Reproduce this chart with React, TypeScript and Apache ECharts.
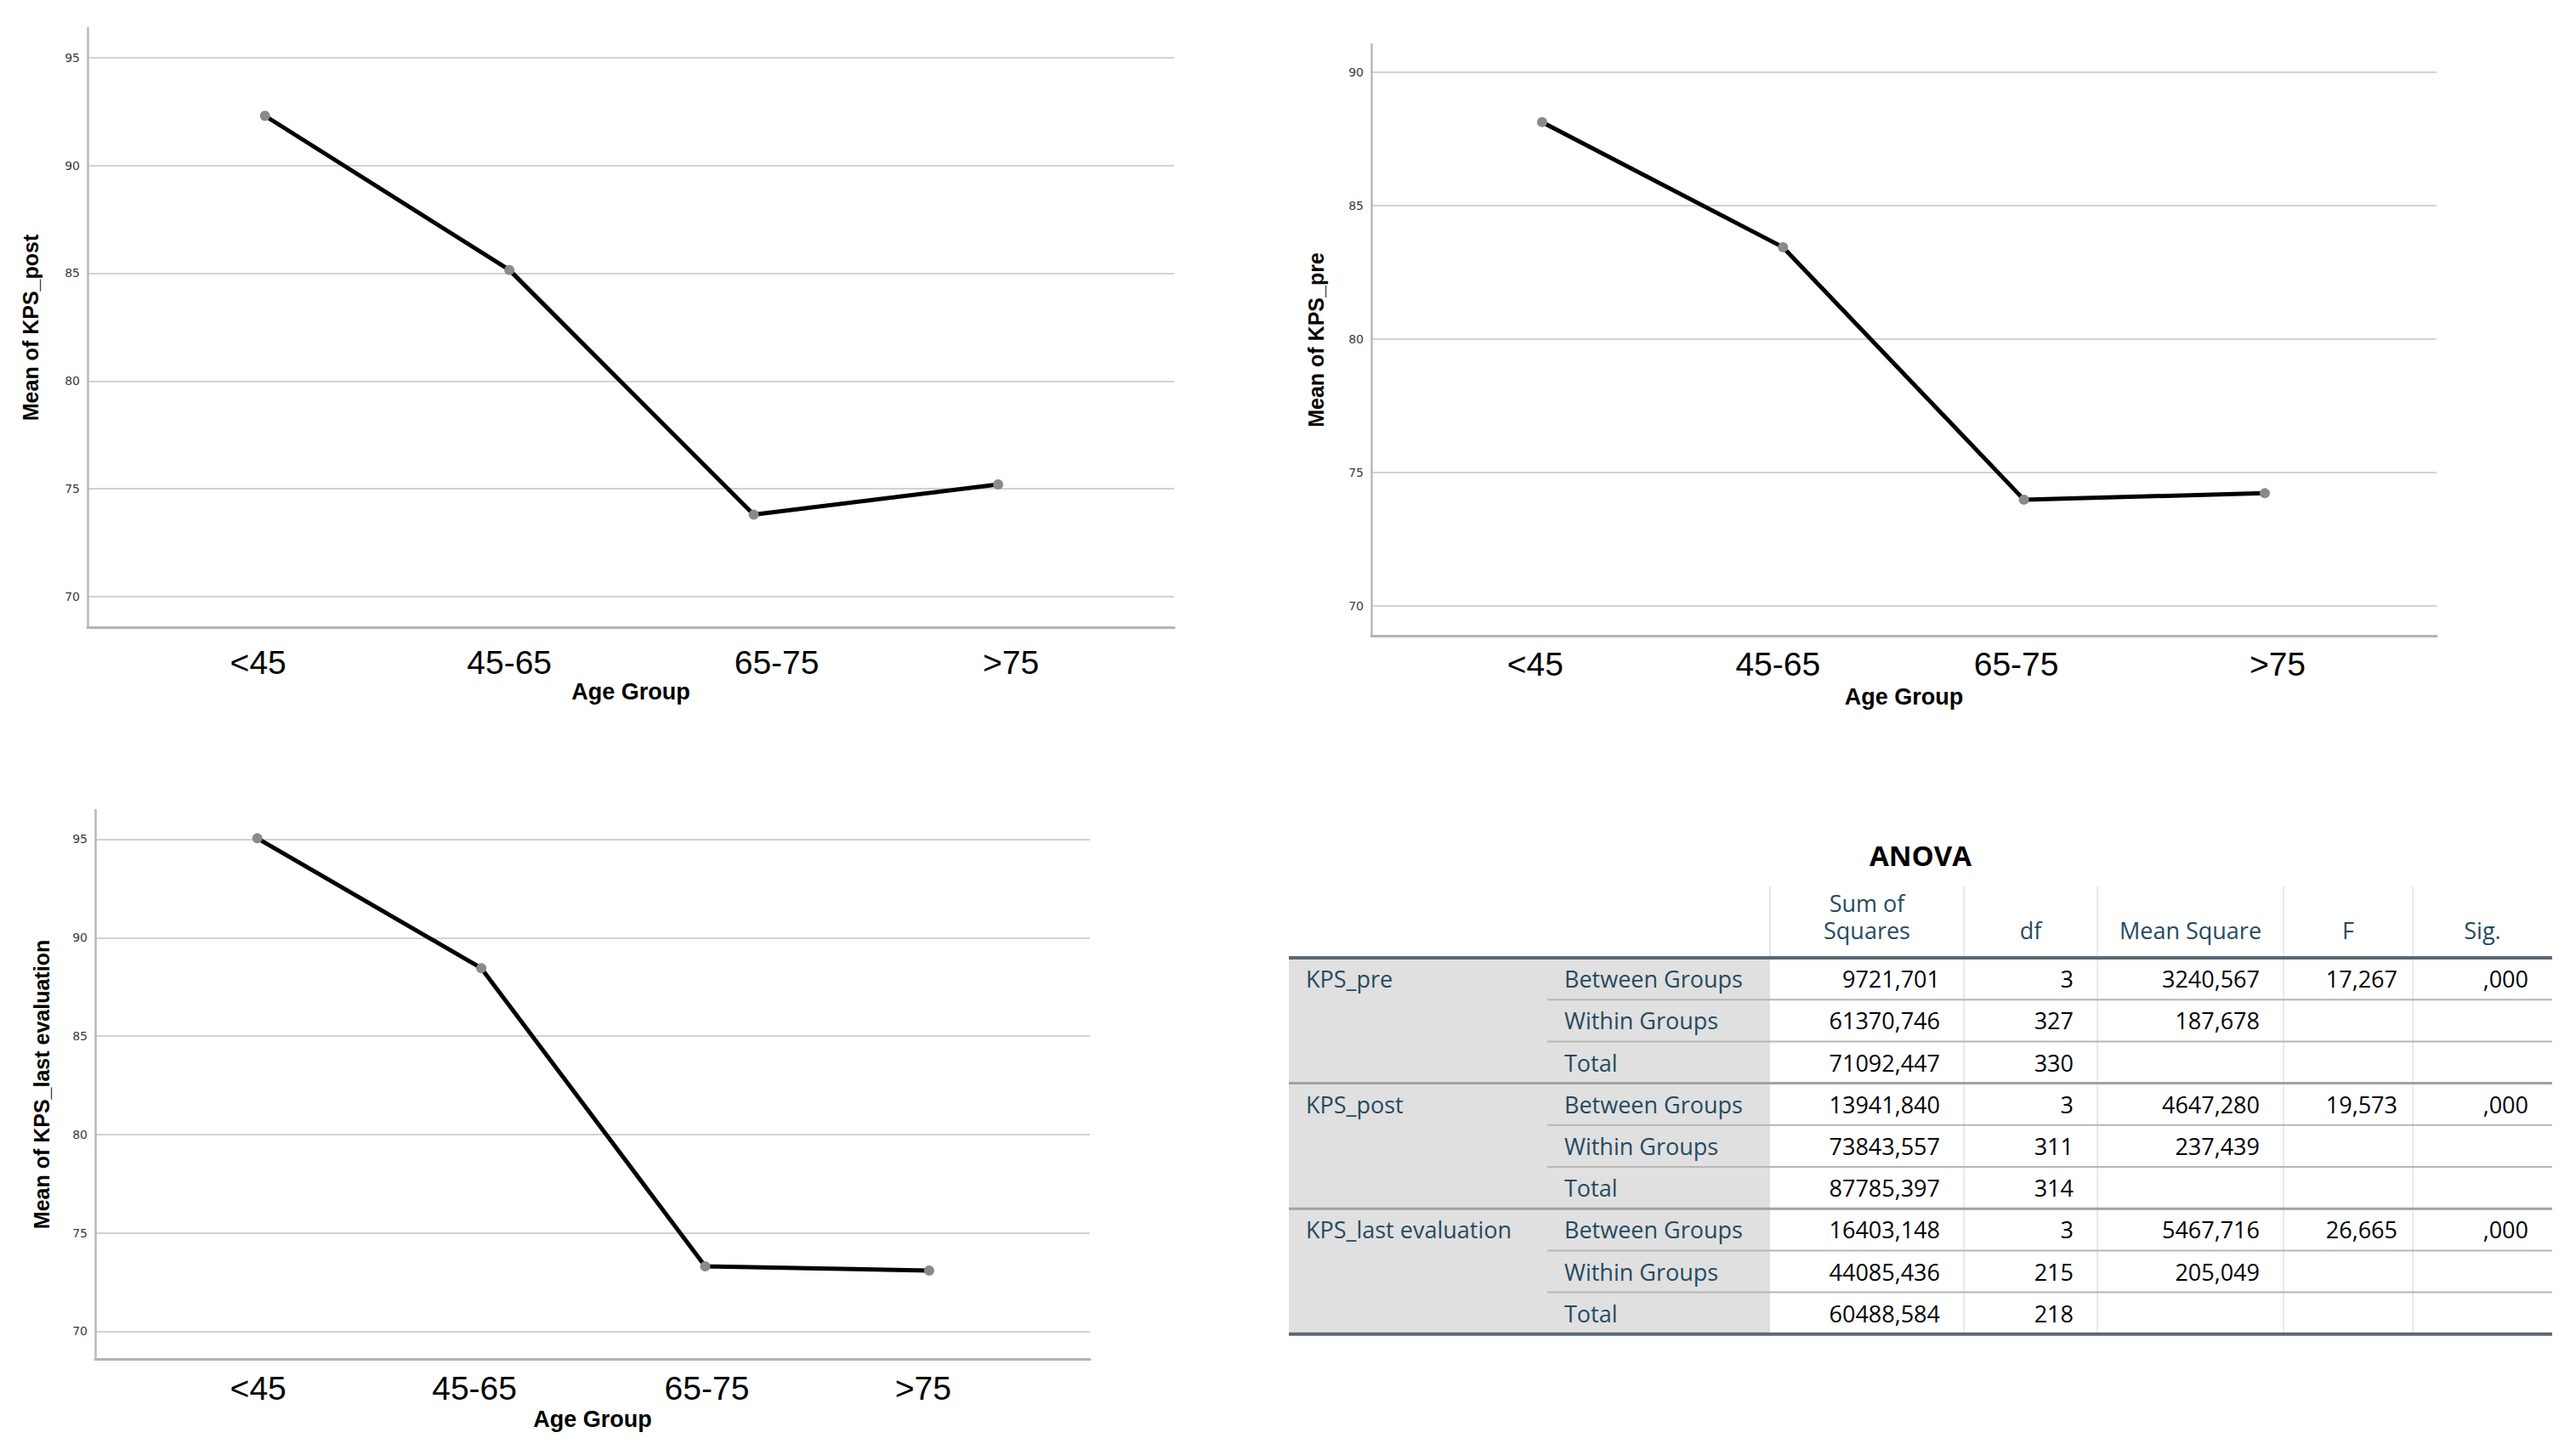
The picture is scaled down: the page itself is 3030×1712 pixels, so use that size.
import React, { useEffect, useRef } from 'react';
import * as echarts from 'echarts';

// ---------- data ----------
const categories = ['<45', '45-65', '65-75', '>75'];
const kpsPost = [92.3, 85.15, 73.8, 75.2];
const kpsPre = [88.13, 83.44, 73.98, 74.22];
const kpsLast = [95.05, 88.45, 73.3, 73.08];
const yTicksPost = [70, 75, 80, 85, 90, 95];
const yTicksPre = [70, 75, 80, 85, 90];
const yTicksLast = [70, 75, 80, 85, 90, 95];

const anovaTitle = 'ANOVA';
const anovaVariables = ['KPS_pre', 'KPS_post', 'KPS_last evaluation'];
const anovaSources = ['Between Groups', 'Within Groups', 'Total'];
const anovaHeaders = ['Sum of\nSquares', 'df', 'Mean Square', 'F', 'Sig.'];
const sumOfSquares = [9721.701, 61370.746, 71092.447, 13941.84, 73843.557, 87785.397, 16403.148, 44085.436, 60488.584];
const dfValues = [3, 327, 330, 3, 311, 314, 3, 215, 218];
const meanSquares = [3240.567, 187.678, null, 4647.28, 237.439, null, 5467.716, 205.049, null];
const fValues = [17.267, null, null, 19.573, null, null, 26.665, null, null];
const sigValues = [0.0, null, null, 0.0, null, null, 0.0, null, null];

// ---------- layout ----------
const panels = [
  { name: 'Mean of KPS_post', values: kpsPost, ticks: yTicksPost, left: 103, top: 33, right: 1381, bottom: 738,
    yMin: 68.58, yMax: 96.37, xMin: -0.726, xMax: 3.72, labelMargin: 22, nameGap: 62, yNameGap: 55,
    labelShiftPx: [-8, 0, 27, 15] },
  { name: 'Mean of KPS_pre', values: kpsPre, ticks: yTicksPre, left: 1613, top: 52, right: 2866, bottom: 748,
    yMin: 68.88, yMax: 91.05, xMin: -0.709, xMax: 3.713, labelMargin: 14, nameGap: 58, yNameGap: 53,
    labelShiftPx: [-8, -6, -9, 15] },
  { name: 'Mean of KPS_last evaluation', values: kpsLast, ticks: yTicksLast, left: 112, top: 953, right: 1282, bottom: 1599,
    yMin: 68.59, yMax: 96.49, xMin: -0.724, xMax: 3.718, labelMargin: 15, nameGap: 57, yNameGap: 51,
    labelShiftPx: [1, -8, 2, -7] },
];

const T = {
  cols: [1516, 1820, 2082, 2310, 2467, 2686, 2838, 3002],
  headTop: 1043,
  headLine: 1127,
  rowH: 49.2,
  text1X: 1536,
  text2X: 1840,
  pad: 28,
  fExtra: 10,
  titleY: 1006,
  headBottom: 1110,
};

const TABLE_FONT = '"Open Sans", "Noto Sans", sans-serif';
const LABEL_COLOR = '#264a60';
const NUM_COLOR = '#010205';

function fmt(v: number | null): string {
  if (v === null || v === undefined) return '';
  return v.toFixed(3).replace('.', ',');
}
function fmtSig(v: number | null): string {
  if (v === null || v === undefined) return '';
  const s = fmt(v);
  return s.startsWith('0,') ? s.slice(1) : s;
}

function txt(text: string, x: number, y: number, align: string, color: string, size: number, weight = 'normal', vAlign = 'middle', lineHeight = 33) {
  return {
    type: 'text',
    silent: true,
    style: {
      text, x, y,
      fill: color,
      font: `${weight} ${size}px ${TABLE_FONT}`,
      lineHeight,
      align, verticalAlign: vAlign,
      textAlign: align, textVerticalAlign: vAlign,
    },
  };
}
function ln(x1: number, y1: number, x2: number, y2: number, color: string, w: number) {
  return { type: 'line', silent: true, shape: { x1, y1, x2, y2 }, style: { stroke: color, lineWidth: w } };
}

function buildTable() {
  const els: any[] = [];
  const c = T.cols;
  const nRows = anovaVariables.length * anovaSources.length;
  const bottom = T.headLine + T.rowH * nRows;
  els.push({ type: 'rect', silent: true, shape: { x: c[0], y: T.headLine, width: c[2] - c[0], height: bottom - T.headLine }, style: { fill: '#e0e0e0' } });
  els.push(ln(c[2], T.headTop, c[2], T.headLine, '#dcdcdc', 1.5));
  for (let k = 3; k <= 6; k++) els.push(ln(c[k], T.headTop, c[k], bottom, '#e2e2e2', 1.5));
  els.push(txt(anovaTitle, (c[0] + c[7]) / 2, T.titleY, 'center', '#000', 33, 'bold'));
  anovaHeaders.forEach((h, k) => {
    const cx = (c[k + 2] + c[k + 3]) / 2;
    els.push(txt(h, cx, T.headBottom, 'center', LABEL_COLOR, 27, 'normal', 'bottom', 32));
  });
  for (let r = 0; r < nRows; r++) {
    const g = Math.floor(r / anovaSources.length);
    const s = r % anovaSources.length;
    const cy = T.headLine + T.rowH * (r + 0.5);
    if (s === 0) els.push(txt(anovaVariables[g], T.text1X, cy, 'left', LABEL_COLOR, 27));
    els.push(txt(anovaSources[s], T.text2X, cy, 'left', LABEL_COLOR, 27));
    els.push(txt(fmt(sumOfSquares[r]), c[3] - T.pad, cy, 'right', NUM_COLOR, 27));
    els.push(txt(String(dfValues[r]), c[4] - T.pad, cy, 'right', NUM_COLOR, 27));
    els.push(txt(fmt(meanSquares[r]), c[5] - T.pad, cy, 'right', NUM_COLOR, 27));
    els.push(txt(fmt(fValues[r]), c[6] - T.pad + T.fExtra, cy, 'right', NUM_COLOR, 27));
    els.push(txt(fmtSig(sigValues[r]), c[7] - T.pad, cy, 'right', NUM_COLOR, 27));
    if (r < nRows - 1) {
      const y = T.headLine + T.rowH * (r + 1);
      if (s === anovaSources.length - 1) els.push(ln(c[0], y, c[7], y, '#a2a2a2', 3));
      else els.push(ln(c[1], y, c[7], y, '#b6b6b6', 2));
    }
  }
  els.push(ln(c[0], T.headLine, c[7], T.headLine, '#5b6874', 4));
  els.push(ln(c[0], bottom, c[7], bottom, '#5b6874', 4));
  return els;
}

export default function App() {
  const ref = useRef<HTMLDivElement>(null);
  useEffect(() => {
    if (!ref.current) return;
    const chart = echarts.init(ref.current, null, { renderer: 'svg' });
    const catIdx = categories.map((_, k) => k);
    const option: any = {
      animation: false,
      textStyle: { fontFamily: '"Liberation Sans", Arial, sans-serif' },
      grid: panels.map((p) => ({ left: p.left, top: p.top, width: p.right - p.left, height: p.bottom - p.top })),
      xAxis: panels.map((p, i) => {
        const pxPerUnit = (p.right - p.left) / (p.xMax - p.xMin);
        const labelPos = catIdx.map((k) => k + p.labelShiftPx[k] / pxPerUnit);
        return {
          type: 'value', gridIndex: i, min: p.xMin, max: p.xMax,
          name: 'Age Group', nameLocation: 'middle', nameGap: p.nameGap,
          nameTextStyle: { fontSize: 27, fontWeight: 'bold', color: '#000', fontFamily: '"Liberation Sans", Arial, sans-serif' },
          axisLine: { show: true, onZero: false, lineStyle: { color: '#b4b4b4', width: 3 } },
          axisTick: { show: false, customValues: labelPos },
          axisLabel: {
            customValues: labelPos,
            formatter: (v: number) => categories[Math.round(v)] ?? '',
            fontSize: 39, color: '#000', margin: p.labelMargin,
            fontFamily: '"Liberation Sans", Arial, sans-serif',
          },
          splitLine: { show: false },
        };
      }),
      yAxis: panels.map((p, i) => ({
        type: 'value', gridIndex: i, min: p.yMin, max: p.yMax,
        name: p.name, nameLocation: 'middle', nameGap: p.yNameGap,
        nameTextStyle: { fontSize: 25, fontWeight: 'bold', color: '#000', fontFamily: '"Liberation Sans", Arial, sans-serif' },
        axisLine: { show: true, onZero: false, lineStyle: { color: '#b8b8b8', width: 2.5 } },
        axisTick: { show: false, customValues: p.ticks },
        axisLabel: { customValues: p.ticks, fontSize: 14, color: '#3a3a3a', margin: 9, fontFamily: '"DejaVu Sans", sans-serif' },
        splitLine: { show: true, lineStyle: { color: '#d2d2d2', width: 2 } },
      })),
      series: panels.map((p, i) => ({
        type: 'line', xAxisIndex: i, yAxisIndex: i,
        data: p.values.map((v, k) => [k, v]),
        lineStyle: { color: '#000', width: 5 },
        symbol: 'circle', symbolSize: 12, showSymbol: true,
        itemStyle: { color: '#8a8a8a' },
        silent: true,
      })),
      graphic: { elements: buildTable() },
    };
    chart.setOption(option);
    return () => chart.dispose();
  }, []);
  return <div ref={ref} style={{ position: 'absolute', left: 0, top: 0, width: '3030px', height: '1712px', background: '#fff' }} />;
}
